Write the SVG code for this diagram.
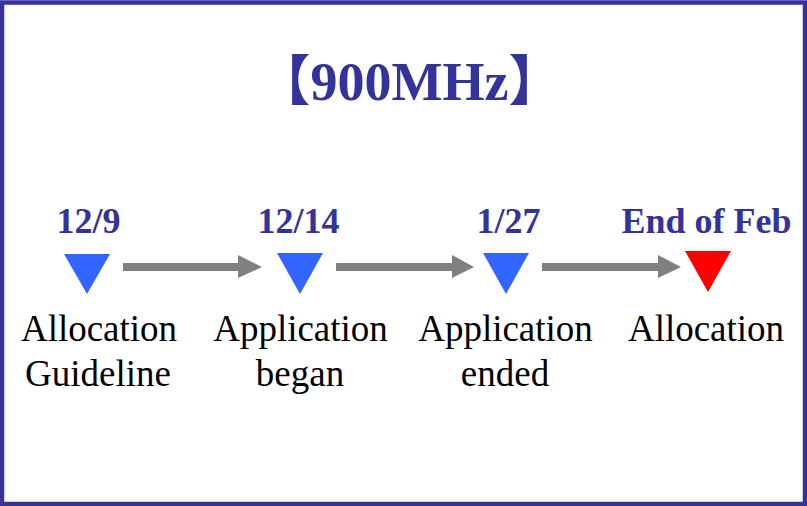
<svg xmlns="http://www.w3.org/2000/svg" width="807" height="506" viewBox="0 0 807 506">
<defs>
<style>
.date{font-family:"Liberation Serif","Times New Roman",serif;font-weight:bold;font-size:36px;fill:#333399;text-anchor:middle}
.lbl{font-family:"Liberation Serif","Times New Roman",serif;font-size:37px;fill:#000;text-anchor:middle}
.title{font-family:"Liberation Serif","Noto Sans CJK JP",serif;font-weight:bold;font-size:54px;fill:#333399}
.blue{fill:#3366FF}
.red{fill:#FF0000}
.arr{fill:#808080}
</style>
</defs>
<rect x="0" y="0" width="807" height="506" fill="#fff"/>
<rect x="2" y="2.5" width="803" height="501.5" fill="none" stroke="#333399" stroke-width="4.5"/>
<g id="title">
<text class="title" x="409.5" y="100" text-anchor="middle">【900MHz】</text>
</g>
<g id="node1">
<text class="date" x="88.5" y="233">12/9</text>
<polygon class="blue" points="64,254 110,254 87,294"/>
<text class="lbl" x="99" y="341">Allocation</text>
<text class="lbl" x="98" y="386">Guideline</text>
</g>
<g id="node2">
<text class="date" x="298.5" y="233">12/14</text>
<polygon class="blue" points="277,253 323,253 300,294"/>
<text class="lbl" x="300.5" y="341">Application</text>
<text class="lbl" x="300" y="386">began</text>
</g>
<g id="node3">
<text class="date" x="508.5" y="233">1/27</text>
<polygon class="blue" points="483,253 529,253 506,294"/>
<text class="lbl" x="505.5" y="341">Application</text>
<text class="lbl" x="505" y="386">ended</text>
</g>
<g id="node4">
<text class="date" x="706.5" y="233">End of Feb</text>
<polygon class="red" points="685,251 731,251 708,292"/>
<text class="lbl" x="706" y="341">Allocation</text>
</g>
<g id="connectors">
<polygon class="arr" points="123,263 238,263 238,255 262,267 238,278 238,271 123,271"/>
<polygon class="arr" points="336,263 452,263 452,255 474,267 452,278 452,271 336,271"/>
<polygon class="arr" points="542,263 658,263 658,255 681,267 658,278 658,271 542,271"/>
</g>
</svg>
